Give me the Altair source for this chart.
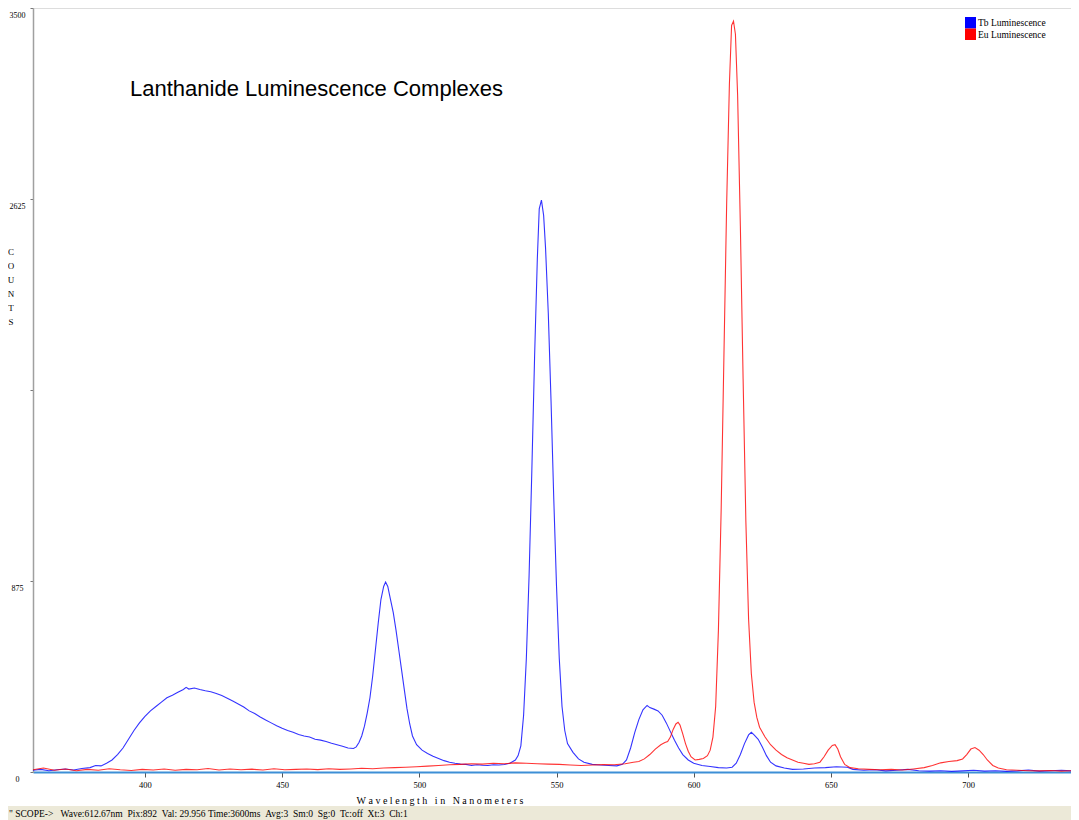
import altair as alt
import pandas as pd

# ---------------- data ----------------
series_names = ["Tb Luminescence", "Eu Luminescence"]
series_colors = ["#0000FF", "#FF0000"]

tb_nm = [359, 362, 365, 368, 371, 374, 377, 380, 382, 384, 386, 388, 390, 392, 394, 396, 398,
         400, 402, 404, 406, 408, 410, 412, 414, 415, 416, 418, 420, 422, 424, 426, 428, 430,
         432, 434, 436, 438, 440, 442, 444, 446, 448, 450, 452, 454, 456, 458, 460, 462, 464,
         466, 468, 470, 472, 474, 476, 477, 478, 479, 480, 481, 482, 483, 484, 485, 486, 487,
         487.7, 488.5, 489.5, 490.5, 491.5, 492.5, 493.5, 494.5, 495.5, 496.5, 497.5, 499, 501,
         503, 505, 507, 509, 511, 513, 515, 517, 519, 521, 523, 525, 527, 529, 531, 533, 535,
         536, 537, 538, 539, 540, 541, 542, 543, 543.7, 544.5, 545.3, 546, 547, 548, 549, 550,
         551, 552, 553, 554, 556, 558, 560, 563, 566, 569, 572, 574, 575.5, 577, 578.5, 580,
         581.5, 583, 584, 585.5, 587, 588.5, 590, 591.5, 593, 594.5, 596, 598, 600, 603, 606,
         609, 612, 614, 615.5, 617, 618.5, 620, 621, 622, 623.5, 625, 626.5, 628, 630, 633,
         636, 640, 644, 648, 652, 656, 658, 662, 666, 670, 674, 678, 682, 686, 690, 694, 698,
         702, 706, 710, 714, 718, 722, 726, 730, 734, 738]
tb_counts = [8, 12, 6, 10, 14, 9, 16, 20, 30, 28, 40, 55, 80, 110, 150, 190, 225,
             255, 280, 300, 320, 340, 352, 365, 378, 388, 380, 385, 378, 372, 368, 360, 350, 338,
             325, 312, 298, 280, 268, 252, 238, 225, 212, 200, 190, 182, 172, 165, 160, 150, 146,
             140, 132, 125, 118, 110, 108, 115, 135, 165, 210, 270, 340, 440, 560, 680, 790, 850,
             870, 850, 790, 730, 650, 560, 470, 380, 290, 220, 165, 125, 100,
             85, 72, 62, 52, 45, 40, 36, 35, 30, 33, 31, 30, 33, 32, 34, 40, 55,
             75, 120, 260, 520, 900, 1380, 1900, 2350, 2580, 2620, 2550, 2400, 2100, 1700, 1250, 850,
             520, 300, 190, 130, 90, 60, 45, 35, 32, 30, 28, 35, 55, 110, 180, 240,
             285, 305, 295, 288, 280, 260, 225, 185, 145, 110, 80, 55, 40, 30, 25,
             20, 18, 22, 40, 80, 130, 170, 182, 170, 150, 115, 75, 45, 28, 18,
             12, 14, 18, 20, 24, 22, 12, 8, 10, 5, 8, 12, 6, 4, 6, 3, 5,
             8, 4, 6, 3, 5, 9, 4, 6, 8, 5]

eu_nm = [359, 363, 367, 371, 375, 379, 383, 387, 391, 395, 399, 403, 407, 411, 415, 419, 423,
         427, 431, 435, 439, 443, 447, 451, 455, 459, 463, 467, 471, 475, 479, 483, 487, 491,
         495, 499, 503, 507, 511, 515, 519, 523, 527, 531, 535, 539, 543, 547, 551, 555, 559,
         563, 567, 571, 575, 578, 580, 582, 584, 586, 588, 589.5, 590.5, 591.5, 592.5, 593.5,
         594.3, 595, 596, 597, 598, 599, 600.5, 602, 603.5, 605, 606, 607, 608, 609, 610, 611,
         612, 613, 613.8, 614.5, 615.2, 616, 617, 618, 619, 620, 621, 622, 623, 624, 626, 628,
         630, 632, 634, 636, 638, 640, 642, 644, 646, 647.5, 649, 650.5, 651.5, 652.5, 653.5,
         655, 657, 660, 664, 668, 672, 676, 680, 684, 687, 690, 693, 696, 698, 699.5, 701,
         702.5, 704, 705.5, 707, 709, 711, 714, 718, 722, 726, 730, 734, 738]
eu_counts = [10, 18, 8, 14, 6, 12, 8, 15, 10, 7, 12, 9, 14, 8, 12, 10, 16,
             9, 14, 10, 13, 9, 15, 10, 12, 14, 11, 15, 12, 14, 17, 15, 18, 20,
             22, 24, 27, 30, 33, 35, 38, 36, 40, 38, 42, 40, 38, 36, 35, 32, 30,
             32, 34, 33, 38, 45, 48, 60, 80, 105, 125, 135, 140, 160, 195, 220,
             228, 215, 175, 130, 95, 70, 55, 58, 62, 75, 100, 160, 300, 650, 1200, 1900,
             2600, 3150, 3420, 3440, 3380, 3100, 2500, 1800, 1150, 700, 450, 320, 250, 205, 160, 125,
             100, 80, 65, 55, 45, 40, 35, 38, 45, 70, 100, 122, 125, 105, 70,
             35, 20, 15, 12, 10, 12, 9, 14, 20, 30, 42, 48, 52, 60, 80, 105,
             112, 100, 80, 55, 30, 18, 10, 8, 6, 5, 7, 4, 6]

y_ticks = [0, 875, 1750, 2625, 3500]
x_ticks = [400, 450, 500, 550, 600, 650, 700]

NB = "\u00a0"
title_text = "Lanthanide Luminescence Complexes"
x_title = NB.join("Wavelength") + NB * 3 + NB.join("in") + NB * 3 + NB.join("Nanometers")
y_title = "C\nO\nU\nN\nT\nS"
status_text = ('"' + NB + "SCOPE->" + NB * 3 + "Wave:612.67nm" + NB * 2 + "Pix:892" + NB * 2 +
               "Val:" + NB + "29.956" + NB + "Time:3600ms" + NB * 2 + "Avg:3" + NB * 2 + "Sm:0" +
               NB * 2 + "Sg:0" + NB * 2 + "Tc:off" + NB * 2 + "Xt:3" + NB * 2 + "Ch:1")

# ---------------- build tables ----------------
df = pd.concat([
    pd.DataFrame({"nm": tb_nm, "counts": tb_counts, "series": series_names[0]}),
    pd.DataFrame({"nm": eu_nm, "counts": eu_counts, "series": series_names[1]}),
], ignore_index=True)
legend_df = pd.DataFrame({"series": series_names, "row": list(range(len(series_names)))})

W, H = 1038, 764
XDOM = [359.2, 737.5]
color_scale = alt.Scale(domain=series_names, range=series_colors)

lines = alt.Chart(df).mark_line(strokeWidth=1.1, opacity=0.8, clip=True).encode(
    x=alt.X("nm:Q", scale=alt.Scale(domain=XDOM, nice=False, zero=False),
            axis=alt.Axis(values=x_ticks, title=None, grid=False, tickSize=5,
                          tickColor="#555555", tickWidth=1, labelPadding=3,
                          labelFontSize=8.5, labelFont="Liberation Serif", labelColor="#000000",
                          domainColor="#3d8fd6", domainWidth=2, labelFlush=False)),
    y=alt.Y("counts:Q", scale=alt.Scale(domain=[0, 3500], nice=False),
            axis=alt.Axis(values=y_ticks, title=None, grid=False, tickSize=3,
                          tickColor="#777777", labelAlign="center", labelPadding=13,
                          labelBaseline="top", labelOffset=3, labelFontSize=8,
                          labelFont="Liberation Serif", labelColor="#000000",
                          domainColor="#a0a0a0", domainWidth=1.5, labelFlush=False,
                          labelOverlap=False, format="d",
                          labelExpr="datum.value == 1750 ? '' : datum.label")),
    color=alt.Color("series:N", sort=series_names, scale=color_scale, legend=None),
)

# legend drawn as marks (rows stacked 11.5 px apart in the top-right corner)
leg_base = alt.Chart(legend_df).transform_calculate(
    y0="9 + datum.row * 11.5", y1="20.5 + datum.row * 11.5", ym="15 + datum.row * 11.5")
leg_sq = leg_base.mark_rect().encode(
    x=alt.value(932), x2=alt.value(943),
    y=alt.Y("y0:Q", scale=None, axis=None), y2="y1:Q",
    color=alt.Color("series:N", sort=series_names, scale=color_scale, legend=None))
leg_txt = leg_base.mark_text(align="left", baseline="middle", font="Liberation Serif",
                             fontSize=9.5, color="#000000").encode(
    x=alt.value(945), y=alt.Y("ym:Q", scale=None, axis=None), text="series:N")

def label(txt, x, y, **kw):
    return alt.Chart(pd.DataFrame({"t": [txt]})).mark_text(**kw).encode(
        text="t:N", x=alt.value(x), y=alt.value(y))

title = label(title_text, 97, 81, font="Liberation Sans", fontSize=22, align="left",
              baseline="middle", color="#000000")
xlab = label(x_title, 407, 793, font="Liberation Serif", fontSize=10, align="center",
             baseline="middle", color="#000000")
ylab = label(y_title, -22, 240, font="Liberation Serif", fontSize=9, align="center",
             baseline="top", lineBreak="\n", lineHeight=14, color="#000000")

status_bg = alt.Chart(pd.DataFrame({"a": [0]})).mark_rect(color="#ECE9D8").encode(
    x=alt.value(-25), x2=alt.value(1038), y=alt.value(798), y2=alt.value(812))
status = label(status_text, -24, 806, font="Liberation Serif", fontSize=9.5, align="left",
               baseline="middle", color="#000000")

chart = alt.layer(status_bg, lines, leg_sq, leg_txt, title, xlab, ylab, status).properties(
    width=W, height=H,
    autosize=alt.AutoSizeParams(type="none"),
    padding={"left": 25, "top": 0, "right": 0, "bottom": 48},
).configure_view(stroke="#a0a0a0", strokeWidth=1.5).configure(
    background="#ffffff", font="Liberation Serif")

chart.save("out.html", embed_options={"renderer": "svg", "actions": False})
